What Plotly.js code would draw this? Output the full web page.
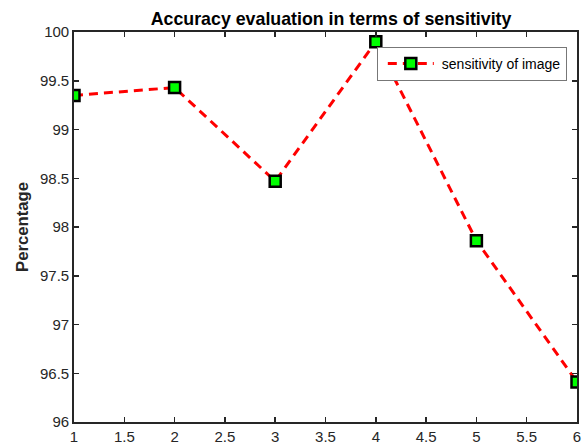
<!DOCTYPE html>
<html><head><meta charset="utf-8">
<script src="https://cdn.plot.ly/plotly-3.0.1.min.js"></script>
<style>html,body{margin:0;padding:0;background:#fff;}</style>
</head><body>
<div id="chart" style="width:587px;height:446px;"></div>
<script>
const xValues = [1, 2, 3, 4, 5, 6];
const sensitivity = [99.35, 99.43, 98.47, 99.90, 97.86, 96.41];
const xTicks = [1, 1.5, 2, 2.5, 3, 3.5, 4, 4.5, 5, 5.5, 6];
const yTicks = [96, 96.5, 97, 97.5, 98, 98.5, 99, 99.5, 100];
const seriesName = 'sensitivity of image';

const FONT = 'Liberation Sans, Arial, sans-serif';
const axisCommon = {
  showgrid: false, zeroline: false, showline: true, mirror: 'ticks',
  linecolor: '#262626', linewidth: 1.8, ticks: 'inside', ticklen: 5,
  tickwidth: 1.5, tickcolor: '#262626',
  tickfont: {family: FONT, size: 15, color: '#262626'}
};

Plotly.newPlot('chart', [{
  x: xValues, y: sensitivity, name: seriesName, type: 'scatter', mode: 'lines+markers',
  line: {color: '#ff0000', width: 3, dash: '9px,6px'},
  marker: {symbol: 'square', size: 11, color: '#00ff00', line: {color: '#000000', width: 2.5}}
}], {
  width: 587, height: 446,
  margin: {l: 74, r: 10, t: 32, b: 24},
  paper_bgcolor: '#ffffff', plot_bgcolor: '#ffffff',
  title: {text: 'Accuracy evaluation in terms of sensitivity', x: 0.564, xanchor: 'center', y: 0.957, yanchor: 'middle',
    font: {family: FONT, size: 17.8, color: '#000', weight: 'bold'}},
  xaxis: Object.assign({}, axisCommon, {range: [1, 6], tickvals: xTicks, ticktext: xTicks.map(String)}),
  yaxis: Object.assign({}, axisCommon, {range: [96, 100], tickvals: yTicks, ticktext: yTicks.map(String),
    title: {text: 'Percentage', standoff: 7, font: {family: FONT, size: 16.7, color: '#262626', weight: 'bold'}}}),
  showlegend: true,
  legend: {x: 0.602, y: 0.962, xanchor: 'left', yanchor: 'top', bgcolor: '#ffffff',
    bordercolor: '#777777', borderwidth: 1, itemwidth: 54, tracegroupgap: 0,
    font: {family: FONT, size: 14, color: '#000'}}
}, {displayModeBar: false, staticPlot: true}).then(function (gd) {
  // lengthen the legend line sample like MATLAB's and centre the marker on it
  gd.querySelectorAll('.legend .legendlines path').forEach(function (p) { p.setAttribute('d', 'M10,0h46'); });
  gd.querySelectorAll('.legend .legendpoints path').forEach(function (p) { p.setAttribute('transform', 'translate(33,0)'); });
});
</script>
</body></html>
